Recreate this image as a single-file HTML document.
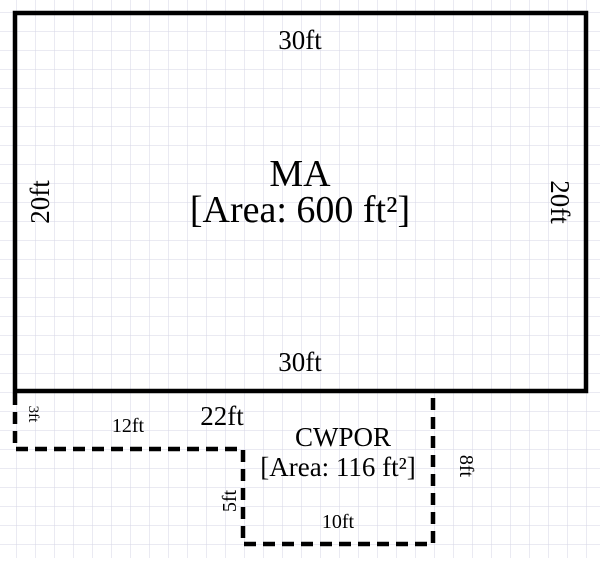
<!DOCTYPE html>
<html><head><style>
body{margin:0;width:600px;height:558px;overflow:hidden;background:#fff;}
</style></head><body>
<svg width="600" height="558" xmlns="http://www.w3.org/2000/svg" font-family="Liberation Serif, serif" fill="#000">
<defs>
<pattern id="g" x="-2.4" y="-6" width="19" height="19" patternUnits="userSpaceOnUse">
<path d="M19 0V19M0 19H19" stroke="#d6d6e6" stroke-width="1" fill="none"/>
</pattern>
</defs>
<rect width="600" height="558" fill="url(#g)"/>
<rect x="15" y="13" width="571" height="378" fill="none" stroke="#000" stroke-width="4.5"/>
<g fill="none" stroke="#000" stroke-width="4.5" stroke-dasharray="12,7">
<path d="M15 393V449H243V544H433V393"/>
</g>
<g text-anchor="middle">
<text x="300" y="49" font-size="27">30ft</text>
<text x="300" y="186" font-size="38">MA</text>
<text x="300" y="222" font-size="38">[Area: 600 ft²]</text>
<text x="300" y="371" font-size="27">30ft</text>
<text transform="translate(49,202) rotate(-90)" font-size="27">20ft</text>
<text transform="translate(551,202) rotate(90)" font-size="27">20ft</text>
<text x="222" y="425" font-size="27">22ft</text>
<text x="128" y="432" font-size="20">12ft</text>
<text transform="translate(29,414) rotate(90)" font-size="15">3ft</text>
<text x="343" y="446" font-size="27">CWPOR</text>
<text x="338" y="476" font-size="27">[Area: 116 ft²]</text>
<text transform="translate(460,466) rotate(90)" font-size="20">8ft</text>
<text transform="translate(236,501) rotate(-90)" font-size="20">5ft</text>
<text x="338" y="528" font-size="20">10ft</text>
</g>
</svg>
</body></html>
